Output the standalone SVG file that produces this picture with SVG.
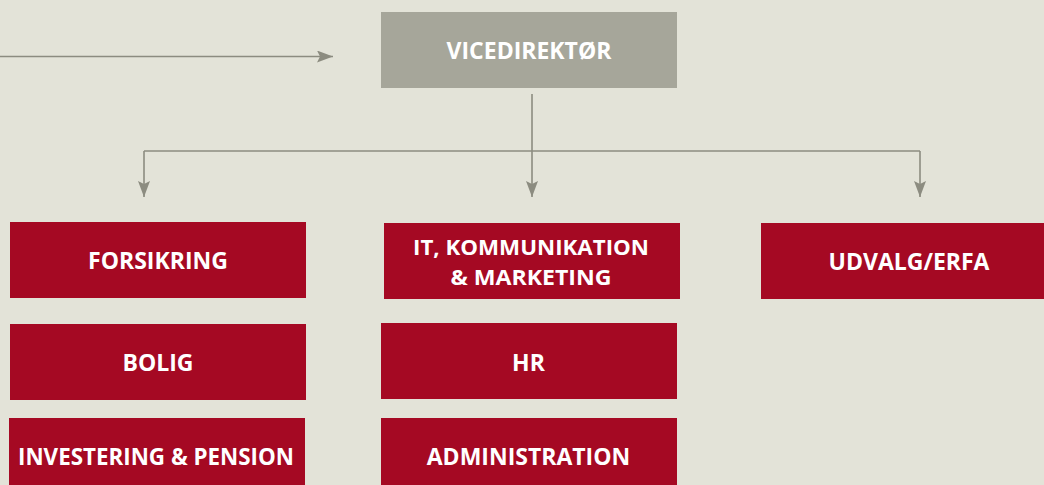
<svg xmlns="http://www.w3.org/2000/svg" width="1044" height="485" viewBox="0 0 1044 485">
  <defs>
    <style>
      .bg { fill: #e3e3d8; }
      .head { fill: #a6a69a; }
      .unit { fill: #a50923; }
      .label { font-family: "Open Sans", "Noto Sans", "Liberation Sans", sans-serif; font-weight: 700; font-size: 23px; fill: #ffffff; text-anchor: middle; }
      .label.two-line { font-size: 21px; }
      .link { fill: none; stroke: #8c8c80; stroke-width: 1.6; }
    </style>
    <marker id="arrow" viewBox="0 0 16 12" refX="16" refY="6" markerWidth="16" markerHeight="12" markerUnits="userSpaceOnUse" orient="auto">
      <path d="M0,0 L16,6 L0,12 L3,6 Z" fill="#8c8c80"/>
    </marker>
  </defs>

  <rect class="bg" x="0" y="0" width="1044" height="485"/>

  <!-- connectors -->
  <g id="connectors">
    <path class="link" d="M0,56.5 H333" marker-end="url(#arrow)"/>
    <path class="link" d="M532,94 V197" marker-end="url(#arrow)"/>
    <path class="link" d="M144,151 H920"/>
    <path class="link" d="M144,151 V197" marker-end="url(#arrow)"/>
    <path class="link" d="M920,151 V197" marker-end="url(#arrow)"/>
  </g>

  <!-- head of department -->
  <g id="vicedirektor">
    <rect class="head" x="381" y="12" width="296" height="76"/>
    <text class="label" x="529" y="59">VICEDIREKTØR</text>
  </g>

  <!-- left column -->
  <g id="forsikring">
    <rect class="unit" x="10" y="222" width="296" height="76"/>
    <text class="label" x="158" y="269">FORSIKRING</text>
  </g>
  <g id="bolig">
    <rect class="unit" x="10" y="324" width="296" height="76"/>
    <text class="label" x="158" y="371">BOLIG</text>
  </g>
  <g id="investering-pension">
    <rect class="unit" x="9" y="418" width="296" height="76"/>
    <text class="label" x="156" y="465" textLength="276" lengthAdjust="spacingAndGlyphs">INVESTERING &amp; PENSION</text>
  </g>

  <!-- middle column -->
  <g id="it-kommunikation-marketing">
    <rect class="unit" x="384" y="223" width="296" height="76"/>
    <text class="label two-line" x="531" y="255" textLength="236" lengthAdjust="spacingAndGlyphs">IT, KOMMUNIKATION</text>
    <text class="label two-line" x="531" y="284.5" textLength="161" lengthAdjust="spacingAndGlyphs">&amp; MARKETING</text>
  </g>
  <g id="hr">
    <rect class="unit" x="381" y="323" width="296" height="76"/>
    <text class="label" x="528.5" y="370.5">HR</text>
  </g>
  <g id="administration">
    <rect class="unit" x="381" y="418" width="296" height="76"/>
    <text class="label" x="528.5" y="465">ADMINISTRATION</text>
  </g>

  <!-- right column -->
  <g id="udvalg-erfa">
    <rect class="unit" x="761" y="223" width="296" height="76"/>
    <text class="label" x="909" y="269.5">UDVALG/ERFA</text>
  </g>
</svg>
